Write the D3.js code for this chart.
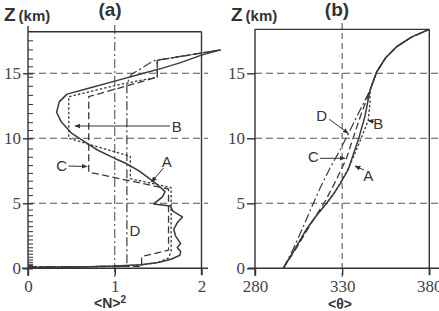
<!DOCTYPE html>
<html><head><meta charset="utf-8">
<script src="https://d3js.org/d3.v7.min.js"></script>
<style>body{margin:0;background:#fff}svg{display:block}</style>
</head><body>
<script>
// ---------- data ----------
// panel (a): <N>^2 vs height (km)
const aTicksX = [0, 1, 2];
const aTicksY = [0, 5, 10, 15];
const aLevels = [0.03,0.06,0.1,0.15,0.22,0.31,0.46,0.64,0.85,1.08,1.33,1.58,1.87,2.18,2.48,2.82,3.2,3.58,4.05,4.48,5.6,6.15,6.7,7.3,7.9,8.54,9.18,10.6,11.2,11.9,12.6,13.3,14.0,14.7,15.5,16.1,16.8,17.5];
const aA_N = [0,0.6,1.0,1.3,1.5,1.65,1.75,1.76,1.72,1.76,1.70,1.68,1.72,1.78,1.67,1.64,1.45,1.55,1.58,1.48,1.40,1.28,1.12,1.0,0.8,0.66,0.5,0.38,0.33,0.36,0.45,0.7,1.0,1.3,1.55,1.75,2.0,2.22];
const aA_Z = [0.05,0.1,0.17,0.27,0.45,0.7,1.0,1.3,1.6,1.9,2.5,3.0,3.5,3.95,4.4,4.8,4.95,5.5,5.9,6.5,6.9,7.5,8.1,8.45,9.1,9.7,10.4,11.3,12.0,12.8,13.4,13.85,14.4,14.95,15.4,15.8,16.4,16.8];
const aB_N = [0,0.6,1.0,1.3,1.5,1.62,1.65,1.65,1.18,1.18,0.47,0.47,0.75,1.0,1.25,1.49,1.49,2.22];
const aB_Z = [0.07,0.1,0.16,0.25,0.45,0.8,1.3,6.2,6.9,8.6,10.0,13.2,13.65,14.05,14.4,14.7,16.0,16.8];
const aC_N = [0,1.31,1.31,1.62,1.62,0.70,0.70,1.49,1.49,2.22];
const aC_Z = [0.1,0.15,0.9,1.4,6.1,7.4,13.2,14.7,16.0,16.8];
const aD_N = [0,1.14,1.14,1.19,1.45,2.22];
const aD_Z = [0.12,0.15,14.2,14.9,15.97,16.8];

// panel (b): <theta> vs height (km)
const bTicksX = [280, 330, 380];
const bTicksY = [0, 5, 10, 15];
const bTop_T = [346,349.8,355,361.3,370,380];
const bTop_Z = [13.7,15.1,16.2,17.05,17.8,18.38];
const bA_T = [296.2,303,309.5,315.5,321.1,325.5,328.8,333.5,336,339.3,343.1];
const bA_Z = [0,1.5,3,4.1,5,5.8,6.5,7.6,8.6,9.9,11.7];
const bB_T = [296.2,303,309.5,315.5,321.1,326,330,334,337.5,341.5,345,346];
const bB_Z = [0,1.5,3,4.1,5,5.9,6.8,7.8,8.9,10.2,11.4,12.8];
const bC_T = [296.2,304,312,320,325.5,329.5,332.6,336,340,343.5];
const bC_Z = [0,1.6,3.4,5.1,6.5,7.6,8.5,9.9,11.5,12.8];
const bD_T = [296.2,302,307.7,312.5,317.3,323,328.8,334.5,340];
const bD_Z = [0,1.5,3.2,4.7,6.15,7.7,9.1,10.6,12.1];

// ---------- drawing ----------
const W = 439, H = 311;
const svg = d3.select("body").append("svg").attr("width", W).attr("height", H);
const defs = svg.append("defs");
defs.append("marker").attr("id","arr").attr("viewBox","0 0 10 10").attr("refX",9).attr("refY",5)
  .attr("markerWidth",6).attr("markerHeight",6).attr("orient","auto")
  .append("path").attr("d","M0,1 L10,5 L0,9 z").attr("fill","#333");

const ink = "#333", gridC = "#555";
const serif = "Liberation Serif, serif", sans = "Liberation Sans, Arial, sans-serif";

const yA = d3.scaleLinear().domain([0, 18.2]).range([268.3, 268.3 - 18.2*13]);
const xA = d3.scaleLinear().domain([0, 2]).range([28, 201.5]);
const yB = d3.scaleLinear().domain([0, 18.38]).range([268.3, 268.3 - 18.38*13]);
const xB = d3.scaleLinear().domain([280, 380]).range([255, 429.3]);

function frame(x, y, ticksX, ticksY, opts) {
  const g = svg.append("g");
  const x0 = x.range()[0], x1 = x.range()[1], yTop = y.range()[1], y0 = y(0);
  // horizontal dashed gridlines
  g.selectAll(".hg").data(ticksY.filter(d => d > 0)).join("line")
    .attr("x1", x0).attr("x2", opts.gridRight).attr("y1", d => y(d)).attr("y2", d => y(d))
    .attr("stroke", gridC).attr("stroke-width", 1.1).attr("stroke-dasharray", "7,4");
  // vertical mid line
  g.append("line").attr("x1", x(opts.midX)).attr("x2", x(opts.midX))
    .attr("y1", opts.midTop).attr("y2", 277)
    .attr("stroke", gridC).attr("stroke-width", 1.1).attr("stroke-dasharray", opts.midDash);
  // top border + right border
  g.append("line").attr("x1", x0).attr("x2", x1).attr("y1", yTop).attr("y2", yTop)
    .attr("stroke", ink).attr("stroke-width", 1.4);
  g.append("line").attr("x1", x1).attr("x2", x1).attr("y1", yTop).attr("y2", 275)
    .attr("stroke", ink).attr("stroke-width", 1.4);
  // left axis
  const ax = d3.axisLeft(y).tickValues(ticksY).tickSize(opts.ytick).tickPadding(opts.ypad).tickFormat(d3.format("d"));
  const gy = g.append("g").attr("transform", `translate(${x0},0)`).call(ax);
  gy.select(".domain").remove();
  gy.append("line").attr("x1",0).attr("x2",0).attr("y1", opts.axTop).attr("y2", 276)
    .attr("stroke", ink).attr("stroke-width", 1.4);
  gy.selectAll(".tick line").attr("stroke", ink).attr("stroke-width", 1.4).attr("x2", opts.ytickIn);
  gy.selectAll(".tick line").attr("x1", -opts.ytick);
  gy.selectAll(".tick text").attr("font-family", serif).attr("font-size", 17).attr("fill", "#444");
  // bottom axis
  const bx = d3.axisBottom(x).tickValues(ticksX).tickSize(7).tickPadding(5).tickFormat(d3.format("d"));
  const gx = g.append("g").attr("transform", `translate(0,${y0})`).call(bx);
  gx.select(".domain").remove();
  gx.append("line").attr("x1", x0 - opts.xLeftExt).attr("x2", opts.gridRight).attr("y1",0).attr("y2",0)
    .attr("stroke", ink).attr("stroke-width", 1.4);
  gx.selectAll(".tick line").attr("stroke", ink).attr("stroke-width", 1.4);
  gx.selectAll(".tick text").attr("font-family", serif).attr("font-size", 17).attr("fill", "#444");
  return g;
}

frame(xA, yA, aTicksX, aTicksY, {gridRight: 208, midX: 1, midTop: 25, midDash: "9,3,2,3",
  ytick: 5, ytickIn: 5, ypad: 2, axTop: 26, xLeftExt: 6});
frame(xB, yB, bTicksX, bTicksY, {gridRight: 439, midX: 330, midTop: 23, midDash: "6,4",
  ytick: 8, ytickIn: 0, ypad: 2, axTop: 29, xLeftExt: 7});

// minor ticks (model levels) on panel (a)
svg.append("g").selectAll("line").data(aLevels).join("line")
  .attr("x1", xA(0)).attr("x2", xA(0) + 5).attr("y1", d => yA(d)).attr("y2", d => yA(d))
  .attr("stroke", ink).attr("stroke-width", 1);

// curves
function curve(x, y, xs, zs, dash, w) {
  const pts = xs.map((v, i) => [x(v), y(zs[i])]);
  svg.append("path").attr("d", d3.line()(pts)).attr("fill", "none")
    .attr("stroke", "#3a3a3a").attr("stroke-width", w).attr("stroke-dasharray", dash)
    .attr("stroke-linejoin", "round");
}
const dashA = null, dashB = "2.5,2", dashC = "7,3.5", dashD = "9,3,2,3";
curve(xA, yA, aD_N, aD_Z, dashD, 1.2);
curve(xA, yA, aC_N, aC_Z, dashC, 1.3);
curve(xA, yA, aB_N, aB_Z, dashB, 1.3);
curve(xA, yA, aA_N, aA_Z, dashA, 1.5);

curve(xB, yB, bD_T.concat(bTop_T), bD_Z.concat(bTop_Z), dashD, 1.2);
curve(xB, yB, bC_T.concat(bTop_T), bC_Z.concat(bTop_Z), dashC, 1.3);
curve(xB, yB, bB_T.concat(bTop_T), bB_Z.concat(bTop_Z), dashB, 1.3);
curve(xB, yB, bA_T.concat(bTop_T), bA_Z.concat(bTop_Z), dashA, 1.5);

// titles
function zLabel(x) {
  const t = svg.append("text").attr("x", x).attr("y", 21).attr("font-family", sans)
    .attr("font-weight", "bold").attr("fill", ink);
  t.append("tspan").attr("font-size", 19).text("Z");
  t.append("tspan").attr("font-size", 15).attr("dx", 3).text("(km)");
}
zLabel(4); zLabel(231);
svg.append("text").attr("x", 110).attr("y", 16).attr("text-anchor", "middle").attr("font-family", sans)
  .attr("font-weight", "bold").attr("font-size", 19).attr("fill", ink).text("(a)");
svg.append("text").attr("x", 337).attr("y", 16).attr("text-anchor", "middle").attr("font-family", sans)
  .attr("font-weight", "bold").attr("font-size", 19).attr("fill", ink).text("(b)");
const xl = svg.append("text").attr("x", 110).attr("y", 308).attr("text-anchor", "middle")
  .attr("font-family", sans).attr("font-weight", "bold").attr("font-size", 14).attr("fill", ink);
xl.append("tspan").text("<N>");
xl.append("tspan").attr("font-size", 10).attr("dy", -5).text("2");
svg.append("text").attr("x", 340).attr("y", 309).attr("text-anchor", "middle")
  .attr("font-family", sans).attr("font-weight", "bold").attr("font-size", 14).attr("fill", ink).text("<θ>");

// curve labels with arrows
const labels = [
  {t:"B", x:176.7, y:126, ax1:170, ay1:126, ax2:75, ay2:126},
  {t:"C", x:61.7, y:165, ax1:68.5, ay1:166, ax2:87, ay2:166.5},
  {t:"A", x:166.7, y:161.5, ax1:163.5, ay1:168, ax2:151.5, ay2:182},
  {t:"D", x:135, y:230},
  {t:"D", x:321.7, y:115, ax1:329.3, ay1:119.3, ax2:348.3, ay2:133.3},
  {t:"B", x:378.3, y:123.3, ax1:374, ay1:121.5, ax2:368, ay2:120.5},
  {t:"C", x:313.3, y:156.7, ax1:320, ay1:158.3, ax2:345, ay2:158.3},
  {t:"A", x:368.3, y:175, ax1:364, ay1:170, ax2:355, ay2:166}
];
labels.forEach(l => {
  svg.append("text").attr("x", l.x).attr("y", l.y + 5.5).attr("text-anchor", "middle")
    .attr("font-family", sans).attr("font-size", 15).attr("fill", ink).text(l.t);
  if (l.ax1 !== undefined) {
    svg.append("line").attr("x1", l.ax1).attr("y1", l.ay1).attr("x2", l.ax2).attr("y2", l.ay2)
      .attr("stroke", ink).attr("stroke-width", 1).attr("marker-end", "url(#arr)");
  }
});
</script>
</body></html>
